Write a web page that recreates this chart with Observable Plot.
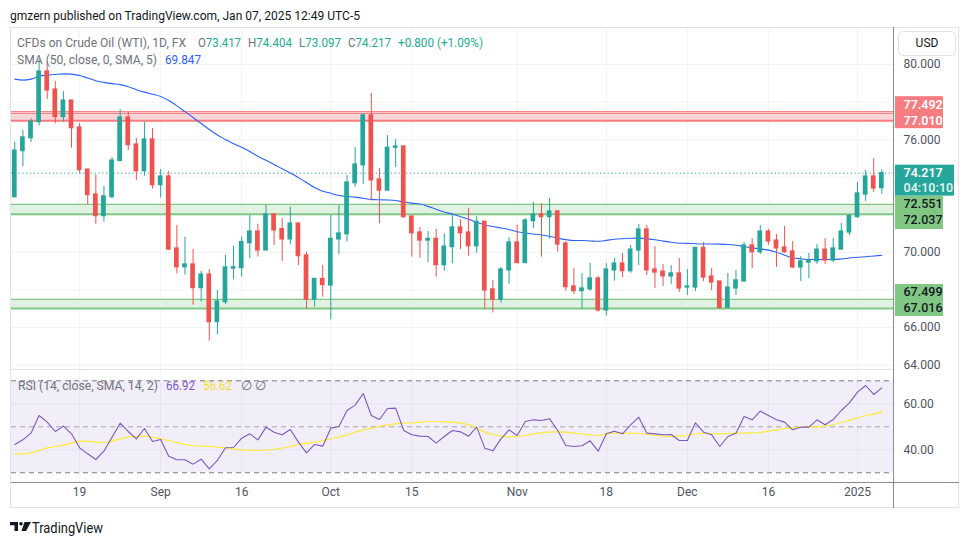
<!DOCTYPE html>
<html><head><meta charset="utf-8">
<script src="https://cdn.jsdelivr.net/npm/d3@7"></script>
<script src="https://cdn.jsdelivr.net/npm/@observablehq/plot@0.6"></script>
<style>
body{margin:0;background:#fff;font-family:Roboto,"Noto Sans",sans-serif;}
#root{position:relative;width:970px;height:545px;overflow:hidden;background:#fff;}
</style></head><body><div id="root"></div>
<script>
// ---- Data ----
const openP=[72.94,75.39,76.08,76.93,79.63,78.67,77.20,78.08,76.65,74.41,73.08,71.93,72.94,74.86,77.18,75.74,74.32,76.01,73.58,74.04,70.21,69.21,69.36,68.10,68.82,66.29,67.35,69.14,69.16,70.49,71.11,70.10,72.02,71.24,70.69,71.54,69.84,67.48,68.59,68.24,70.69,70.97,73.68,74.63,77.29,73.88,73.29,75.57,75.64,71.91,71.06,70.63,70.72,69.32,70.28,71.33,71.06,70.33,71.63,68.03,67.48,69.04,70.53,69.43,71.66,72.02,71.88,72.18,70.47,68.19,67.94,68.03,68.61,66.91,69.04,69.41,69.00,70.10,71.22,69.09,68.98,68.72,68.88,68.13,68.13,70.24,68.72,68.45,67.05,68.08,68.45,70.37,70.01,71.11,70.63,70.26,70.05,69.20,69.46,69.52,70.15,69.57,70.15,71.06,71.88,73.08,74.04,73.417];
const highP=[75.87,76.49,77.11,80.30,80.10,79.10,78.56,78.10,76.86,74.42,74.13,73.51,75.05,77.59,77.46,76.07,76.91,76.59,74.41,74.31,71.43,70.81,70.15,69.00,69.09,67.97,69.84,70.33,70.81,71.96,71.50,72.51,72.02,71.80,72.41,71.55,70.01,68.60,69.30,71.96,72.50,74.09,75.57,77.38,78.47,74.47,76.22,76.01,75.65,71.92,71.33,71.11,71.22,70.99,71.98,71.75,72.34,71.91,71.65,68.51,69.20,70.79,71.45,71.80,72.66,72.59,72.87,72.23,70.58,69.14,68.88,69.41,68.72,69.41,69.68,69.94,70.37,71.49,71.43,70.31,69.36,69.30,69.68,69.09,70.25,70.53,69.14,68.46,68.88,69.04,70.53,70.74,71.43,71.22,70.95,71.38,70.58,69.78,69.94,70.42,70.74,70.74,71.54,72.02,73.72,74.36,74.99,74.404];
const lowP=[72.90,74.57,75.85,76.72,78.14,76.84,76.93,75.55,74.18,72.55,71.49,71.61,72.85,74.86,75.41,73.83,74.06,73.37,72.89,70.10,68.86,68.79,67.19,67.35,65.28,65.63,67.23,68.54,68.68,69.66,69.75,70.10,70.37,69.52,70.42,69.30,67.00,67.09,67.62,66.41,69.89,70.55,73.47,73.61,72.73,71.52,73.29,74.52,71.80,69.75,69.69,69.46,68.68,69.00,69.39,70.15,69.80,69.96,66.94,66.78,67.30,68.31,69.43,69.43,71.27,69.75,70.70,70.01,67.94,67.76,66.98,67.94,66.82,66.61,68.47,68.66,68.89,69.30,68.77,68.08,68.19,68.29,67.87,67.71,67.92,68.45,67.97,66.96,67.04,67.71,68.45,69.14,69.89,70.37,69.20,69.94,69.14,68.45,68.61,69.36,69.36,69.46,70.15,70.90,71.82,72.71,73.19,73.097];
const closeP=[75.42,76.12,76.97,79.63,78.62,77.20,78.08,76.61,74.38,73.05,71.93,72.98,74.89,77.18,75.71,74.32,76.01,73.58,74.04,70.15,69.21,69.36,68.10,68.82,66.29,67.39,69.20,69.21,70.55,71.11,70.10,72.02,71.17,70.69,71.54,69.80,67.48,68.59,68.26,70.72,71.01,73.72,74.68,77.29,73.83,73.29,75.57,75.64,71.88,71.02,70.63,70.72,69.32,70.31,71.33,71.02,70.33,71.63,67.97,67.48,69.09,70.53,69.43,71.70,72.02,71.88,72.18,70.42,68.15,67.94,68.08,68.61,66.91,69.09,69.41,69.00,70.15,71.22,69.04,68.93,68.72,68.88,68.08,68.19,70.24,68.66,68.40,67.05,68.13,68.51,70.37,70.01,71.11,70.58,70.21,70.01,69.20,69.52,69.57,70.15,69.57,70.21,71.11,71.93,73.14,74.04,73.40,74.217];
const sma50=[79.22,79.17,79.22,79.38,79.43,79.47,79.50,79.49,79.41,79.28,79.14,79.05,78.98,78.93,78.82,78.66,78.53,78.42,78.30,78.08,77.80,77.49,77.18,76.86,76.54,76.25,76.01,75.78,75.60,75.37,75.12,74.90,74.68,74.45,74.23,73.98,73.72,73.45,73.25,73.15,73.03,72.98,72.94,72.88,72.82,72.80,72.79,72.76,72.68,72.62,72.58,72.45,72.30,72.15,72.04,71.90,71.76,71.60,71.46,71.38,71.30,71.22,71.10,71.03,70.98,70.93,70.86,70.76,70.68,70.63,70.63,70.61,70.59,70.64,70.70,70.73,70.75,70.76,70.72,70.67,70.60,70.54,70.49,70.48,70.46,70.45,70.45,70.44,70.42,70.38,70.31,70.24,70.19,70.12,70.01,69.85,69.72,69.66,69.62,69.62,69.62,69.62,69.65,69.70,69.74,69.77,69.81,69.847];
const rsi=[42.31,44.33,47.23,54.91,52.02,47.96,50.28,46.94,40.86,38.25,35.78,39.41,45.49,51.58,47.96,44.77,49.26,43.61,44.48,37.23,35.64,35.64,33.76,35.93,31.73,35.35,40.86,41.00,45.06,46.94,44.33,49.84,47.67,46.51,48.83,43.32,38.68,42.31,41.58,49.41,50.13,57.09,59.41,64.48,54.91,53.17,57.96,58.10,48.39,46.51,45.93,45.78,42.89,45.78,48.39,47.81,45.93,49.84,40.71,39.55,44.77,48.68,46.22,52.31,53.03,52.74,53.47,48.39,41.87,41.44,41.73,43.90,39.41,46.94,48.10,46.94,50.86,54.19,47.23,46.94,46.51,46.65,44.04,44.04,51.73,47.67,46.51,41.44,45.78,47.23,54.48,53.03,56.80,54.91,53.03,52.02,48.68,49.84,49.84,53.03,50.86,53.17,57.09,60.42,65.06,67.96,64.05,66.92];
const rsiSma=[38.25,38.25,38.68,39.70,40.86,41.44,42.02,42.89,43.76,43.76,43.32,43.18,43.76,44.77,45.49,45.78,45.93,45.49,44.77,44.04,43.18,42.31,41.87,41.58,41.44,41.15,40.86,40.42,39.99,39.84,39.70,39.84,40.13,40.71,41.44,42.31,42.89,43.18,44.04,44.77,45.49,46.51,47.67,48.68,49.41,50.13,50.86,51.29,51.58,51.73,52.02,52.31,52.31,52.16,52.02,51.58,50.86,49.55,47.67,46.65,45.93,45.49,45.78,46.22,46.94,47.38,47.67,47.81,47.67,47.23,46.94,46.51,46.22,46.94,47.23,47.23,47.23,47.09,46.80,46.36,45.93,45.78,45.93,46.22,46.94,47.23,47.09,46.94,47.09,47.23,47.23,47.38,47.52,48.10,48.68,49.26,49.55,49.84,49.84,49.99,50.28,51.00,51.87,52.89,53.90,54.91,55.49,56.62];
const timeTickIdx=[8,18,28,39,49,62,73,83,93,104];
const timeTickLabels=["19","Sep","16","Oct","15","Nov","18","Dec","16","2025"];
const priceTicks=[64,66,68,70,72,74,76,78,80];
const hiddenTicks=[72,74,78];           // covered by the price labels in the reference
const rsiTicks=[40,60];
const rsiBands=[70,50,30];
const resZones=[{lo:77.010,hi:77.492}];
const supZones=[{lo:72.037,hi:72.551,stackDown:true},{lo:67.016,hi:67.499,stackDown:false}];
const lastPrice=74.217;
const countdown="04:10:10";
const ohlcLegend=[["O","73.417"],["H","74.404"],["L","73.097"],["C","74.217"]];

// ---- Derived tables ----
const bars=openP.map((o,i)=>({i,o,h:highP[i],l:lowP[i],c:closeP[i],sma:sma50[i],rsi:rsi[i],rsiSma:rsiSma[i]}));
const UP="#26a69a", DN="#ef5350";
const col=d=>d.c>=d.o?UP:DN;
const xDomain=[-0.407,108.44];
const font='Roboto,"Noto Sans",sans-serif';
const root=document.getElementById("root");
const shownTicks=priceTicks.filter(t=>!hiddenTicks.includes(t));
const supDown=supZones.filter(d=>d.stackDown), supUp=supZones.filter(d=>!d.stackDown);

function place(el,left,top){el.style.position="absolute";el.style.left=left+"px";el.style.top=top+"px";root.appendChild(el);}

// ---- Price pane ----
const labelText={frameAnchor:"right",dx:10,textAnchor:"start",fontSize:12.5};
const price=Plot.plot({
  width:970,height:343,marginLeft:11,marginRight:77,marginTop:0,marginBottom:0,
  style:{fontFamily:font,fontSize:"12px",background:"transparent",overflow:"visible"},
  x:{domain:xDomain,axis:null},
  y:{domain:[63.715,81.969],axis:null},
  marks:[
    Plot.ruleY(priceTicks,{stroke:"#f0f3fa"}),
    Plot.ruleX(timeTickIdx,{stroke:"#f0f3fa"}),
    Plot.rect(resZones,{y1:"lo",y2:"hi",fill:"#fbd6d8"}),
    Plot.rect(supZones,{y1:"lo",y2:"hi",fill:"#e2f2e2"}),
    Plot.ruleY(resZones,{y:"hi",stroke:"#f77c80",strokeWidth:1}),
    Plot.ruleY(resZones,{y:"hi",stroke:"#f77c80",strokeWidth:1,dy:1.8}),
    Plot.ruleY(resZones,{y:"lo",stroke:"#f77c80",strokeWidth:2}),
    Plot.ruleY(supZones,{y:"hi",stroke:"#81c784",strokeWidth:1.3}),
    Plot.ruleY(supZones,{y:"lo",stroke:"#81c784",strokeWidth:2}),
    Plot.ruleY([lastPrice],{stroke:UP,strokeDasharray:"1.2,2.6",strokeWidth:1}),
    Plot.line(bars,{x:"i",y:"sma",stroke:"#2962ff",strokeWidth:1.1,curve:"monotone-x"}),
    Plot.ruleX(bars,{x:"i",y1:"l",y2:"h",stroke:col,strokeWidth:1}),
    Plot.rect(bars,{x1:d=>d.i-0.29,x2:d=>d.i+0.29,y1:"o",y2:"c",fill:col,insetTop:-0.6,insetBottom:-0.6}),
    Plot.text(shownTicks,{y:d=>d,text:d=>d.toFixed(3),frameAnchor:"right",dx:10,textAnchor:"start",fill:"#50535e",fontSize:12}),
    // price label boxes on the axis
    Plot.rect(resZones,{y1:"lo",y2:"lo",insetTop:-24,insetBottom:-8,insetLeft:884,insetRight:-50,fill:"#f77c80"}),
    Plot.text(resZones,{...labelText,y:"lo",text:d=>d.hi.toFixed(3),dy:-16,fill:"#fff",fontWeight:600}),
    Plot.text(resZones,{...labelText,y:"lo",text:d=>d.lo.toFixed(3),fill:"#fff",fontWeight:600}),
    Plot.rect([lastPrice],{y1:d=>d,y2:d=>d,insetTop:-8,insetBottom:-23,insetLeft:884,insetRight:-61,fill:UP}),
    Plot.text([lastPrice],{...labelText,y:d=>d,text:d=>d.toFixed(3),fill:"#fff",fontWeight:600}),
    Plot.text([lastPrice],{...labelText,y:d=>d,text:()=>countdown,dy:15,fill:"#fff",fillOpacity:0.85,fontWeight:600}),
    Plot.rect(supDown,{y1:"hi",y2:"hi",insetTop:-8,insetBottom:-25,insetLeft:884,insetRight:-50,fill:"#81c784"}),
    Plot.text(supDown,{...labelText,y:"hi",text:d=>d.hi.toFixed(3),fill:"#131722",fontWeight:500}),
    Plot.text(supDown,{...labelText,y:"hi",text:d=>d.lo.toFixed(3),dy:16,fill:"#131722",fontWeight:500}),
    Plot.rect(supUp,{y1:"lo",y2:"lo",insetTop:-24,insetBottom:-8,insetLeft:884,insetRight:-50,fill:"#81c784"}),
    Plot.text(supUp,{...labelText,y:"lo",text:d=>d.hi.toFixed(3),dy:-16,fill:"#131722",fontWeight:500}),
    Plot.text(supUp,{...labelText,y:"lo",text:d=>d.lo.toFixed(3),fill:"#131722",fontWeight:500})
  ]
});
place(price,0,27);

// ---- RSI pane ----
const rsiPlot=Plot.plot({
  width:970,height:138,marginLeft:11,marginRight:77,marginTop:0,marginBottom:26,
  style:{fontFamily:font,fontSize:"12px",background:"transparent",overflow:"visible"},
  x:{domain:xDomain,axis:null},
  y:{domain:[25.78,74.48],axis:null},
  marks:[
    Plot.ruleX(timeTickIdx,{stroke:"#f0f3fa"}),
    Plot.ruleY(rsiTicks,{stroke:"#f0f3fa"}),
    Plot.rect([{a:30,b:70}],{y1:"a",y2:"b",fill:"#7e57c2",fillOpacity:0.1}),
    Plot.ruleY(rsiBands,{stroke:d=>d===50?"#a3a6af":"#787b86",strokeDasharray:"5,4",strokeWidth:1}),
    Plot.line(bars,{x:"i",y:"rsiSma",stroke:"#fdeb3b",strokeWidth:1.2,curve:"monotone-x"}),
    Plot.line(bars,{x:"i",y:"rsi",stroke:"#7e57c2",strokeWidth:1.1}),
    Plot.text(rsiTicks,{y:d=>d,text:d=>d.toFixed(2),frameAnchor:"right",dx:10,textAnchor:"start",fill:"#50535e",fontSize:12}),
    Plot.text(timeTickIdx,{x:d=>d,text:(d,k)=>timeTickLabels[k],frameAnchor:"bottom",dy:13,fill:"#50535e",fontSize:12,fontWeight:(d,k)=>timeTickLabels[k]==="2025"?700:400})
  ]
});
place(rsiPlot,0,370);

// ---- frame, separators ----
function box(l,t,w,h,css){const d=document.createElement("div");d.style.cssText=css;d.style.width=w+"px";d.style.height=h+"px";place(d,l,t);return d;}
box(10,27,949,481,"border:1px solid #e0e3eb;box-sizing:border-box;pointer-events:none");
box(11,369,883,1,"background:#e0e3eb");
box(11,482,948,1,"background:#8a8d96");
box(893,27,1,481,"background:#8a8d96");
const usd=box(898,31,58,25,"border:1px solid #e0e3eb;border-radius:5px;background:#fff;box-sizing:border-box;font:12px "+font+";color:#131722;text-align:center;line-height:23px;");
usd.textContent="USD";

// ---- overlay texts (SVG, fitted to the reference widths) ----
const NS="http://www.w3.org/2000/svg";
const ov=document.createElementNS(NS,"svg");
ov.setAttribute("width","970");ov.setAttribute("height","545");
ov.style.cssText="position:absolute;left:0;top:0;pointer-events:none;font-family:"+font;
root.appendChild(ov);
function t(parts,x,y,size,len,weight){
  const e=document.createElementNS(NS,"text");
  e.setAttribute("x",x);e.setAttribute("y",y);e.setAttribute("font-size",size);
  if(weight)e.setAttribute("font-weight",weight);
  if(len){e.setAttribute("textLength",len);e.setAttribute("lengthAdjust","spacingAndGlyphs");}
  for(const [str,fill] of parts){const s=document.createElementNS(NS,"tspan");s.setAttribute("fill",fill);s.textContent=str;e.appendChild(s);}
  ov.appendChild(e);return e;
}
const G="#6f727c", TL="#22ab94";
t([["gmzern published on TradingView.com, Jan 07, 2025 12:49 UTC-5","#131722"]],10,19.5,13,350);
t([["CFDs on Crude Oil (WTI), 1D, FX",G]],17,47,13,169);
const ohlcX=[198,248,299,348], ohlcW=[43,44,42,43];
ohlcLegend.forEach(([k,v],j)=>t([[k,G],[v,TL]],ohlcX[j],47,13,ohlcW[j]));
t([["+0.800 (+1.09%)",TL]],398,47,13,85);
t([["SMA (50, close, 0, SMA, 5)",G]],17,64,13,140);
t([["69.847","#2962ff"]],165,64,13,36);
t([["RSI (14, close, SMA, 14, 2)",G]],18,389.5,13,140);
t([["66.92","#7e57c2"]],166,389.5,13,29);
t([["56.62","#f2dc2a"]],203,389.5,13,29);
t([["∅",G]],241,389.5,13);t([["∅",G]],255,389.5,13);
// logo
const logo=document.createElementNS(NS,"g");
logo.innerHTML='<path d="M10 522H18V531H14.5V525.3H10Z" fill="#131722"/><circle cx="21" cy="523.8" r="1.8" fill="#131722"/><path d="M24.5 522H31L26 531H21.5Z" fill="#131722"/>';
ov.appendChild(logo);
t([["TradingView","#131722"]],32,532.5,15,71);
</script></body></html>
